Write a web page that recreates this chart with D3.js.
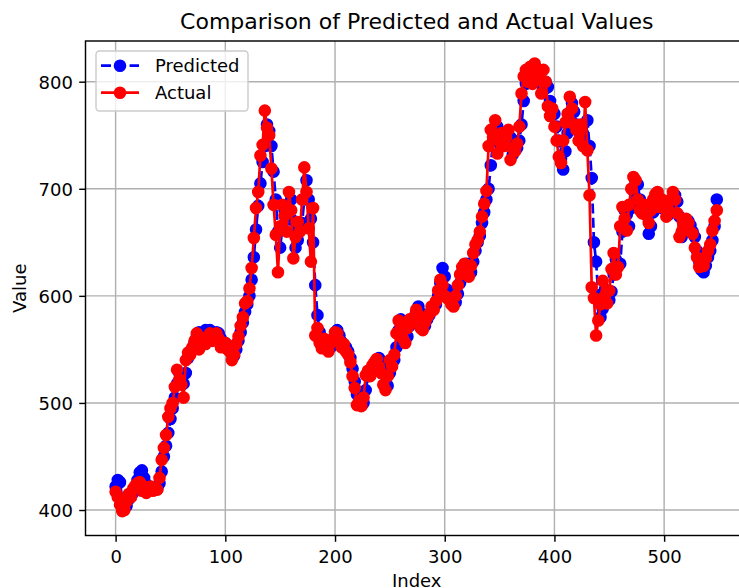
<!DOCTYPE html>
<html>
<head>
<meta charset="utf-8">
<script src="https://cdn.jsdelivr.net/npm/d3@7"></script>
<style>
  html, body { margin: 0; padding: 0; background: #fff; }
  svg { display: block; font-family: "DejaVu Sans", sans-serif; }
</style>
</head>
<body>
<svg id="chart" width="739" height="588"></svg>
<script>
// Observed values, one per sampled index (0, 2, 4, ... 548)
const actual = [
  417, 412, 405, 399, 400, 408, 415, 412, 420, 423,
  425, 426, 418, 422, 416, 420, 422, 418, 420, 419,
  430, 447, 458, 470, 487, 495, 500, 515, 531, 522,
  517, 505, 540, 547, 545, 552, 558, 565, 550, 556,
  560, 555, 562, 565, 558, 563, 565, 560, 552, 555,
  556, 550, 548, 540, 545, 555, 562, 572, 580, 593,
  595, 607, 626, 654, 682, 697, 731, 741, 773, 757,
  750, 719, 685, 657, 622, 665, 685, 675, 660, 697,
  680, 635, 655, 669, 660, 690, 720, 697, 663, 632,
  682, 563, 570, 556, 551, 560, 553, 548, 556, 560,
  566, 565, 558, 552, 555, 548, 545, 538, 525, 514,
  498, 502, 497, 505, 526, 530, 525, 535, 538, 541,
  534, 528, 517, 512, 525, 540, 534, 545, 565, 577,
  570, 560, 556, 570, 578, 575, 580, 587, 582, 570,
  568, 575, 580, 583, 590, 587, 595, 605, 615, 610,
  600, 598, 597, 592, 590, 600, 610, 620, 627, 630,
  622, 618, 628, 640, 648, 652, 660, 674, 686, 698,
  740, 755, 748, 764, 733, 745, 752, 740, 748, 755,
  727, 738, 735, 742, 758, 789, 805, 811, 800, 814,
  798, 817, 810, 802, 789, 811, 800, 777, 768, 775,
  758, 745, 730, 724, 745, 762, 770, 786, 775, 760,
  755, 745, 760, 740, 781, 736, 694, 608, 598, 563,
  577, 592, 614, 600, 593, 605, 625, 640, 620, 627,
  665, 683, 672, 661, 685, 700, 711, 708, 690, 680,
  677, 685, 675, 668, 680, 690, 695, 697, 683, 690,
  686, 674, 680, 690, 697, 690, 677, 655, 660, 668,
  672, 668, 660, 658, 645, 636, 627, 630, 628, 635,
  642, 648, 661, 670, 680
];

// Model output for the same indices
const predicted = [
  422, 428, 426, 410, 402, 404, 410, 414, 416, 420,
  428, 435, 437, 430, 424, 420, 421, 420, 419, 420,
  425, 436, 450, 460, 472, 485, 495, 505, 518, 528,
  525, 518, 528, 542, 548, 550, 556, 562, 566, 562,
  565, 568, 565, 568, 566, 564, 566, 565, 560, 556,
  556, 554, 550, 546, 544, 550, 558, 566, 575, 585,
  592, 600, 615, 636, 662, 684, 705, 725, 740, 760,
  754, 740, 716, 690, 660, 645, 664, 680, 676, 672,
  690, 670, 645, 652, 662, 668, 690, 708, 690, 672,
  650, 610, 582, 566, 560, 556, 558, 554, 552, 556,
  562, 568, 563, 557, 554, 552, 548, 542, 532, 520,
  508, 500, 498, 500, 512, 525, 530, 530, 536, 540,
  542, 536, 528, 518, 516, 528, 538, 540, 552, 568,
  578, 570, 562, 562, 572, 578, 580, 584, 590, 584,
  574, 572, 578, 582, 586, 590, 592, 600, 612, 626,
  618, 606, 600, 598, 594, 594, 602, 612, 622, 628,
  630, 624, 622, 632, 642, 650, 656, 668, 678, 690,
  700, 722, 745, 752, 758, 742, 746, 750, 744, 750,
  748, 732, 736, 738, 745, 760, 782, 798, 806, 804,
  810, 806, 812, 806, 798, 792, 800, 795, 782, 770,
  770, 758, 745, 728, 718, 735, 752, 764, 780, 772,
  760, 754, 748, 752, 742, 764, 740, 710, 650, 632,
  600, 580, 588, 606, 604, 596, 604, 620, 634, 628,
  630, 660, 680, 676, 665, 682, 698, 706, 704, 690,
  680, 678, 680, 658, 665, 678, 690, 694, 690, 682,
  686, 684, 676, 680, 690, 694, 688, 674, 655, 660,
  666, 670, 666, 660, 655, 642, 632, 624, 622, 628,
  636, 642, 652, 665, 690
];

const sampleIndex = d3.range(0, 550, 2);
const xTicks = [0, 100, 200, 300, 400, 500];
const yTicks = [400, 500, 600, 700, 800];
const chartTitle = "Comparison of Predicted and Actual Values";
const xTitle = "Index";
const yTitle = "Value";
const seriesNames = ["Predicted", "Actual"];

const plot = { left: 85.5, right: 748, top: 41, bottom: 535.5 };
const tickFont = 18;

const svg = d3.select("#chart");

const x = d3.scaleLinear().domain([-27.45, 576.45]).range([plot.left, plot.right]);
const y = d3.scaleLinear().domain([376.2, 838.0]).range([plot.bottom, plot.top]);

svg.append("defs").append("clipPath").attr("id", "plotClip")
  .append("rect")
  .attr("x", plot.left).attr("y", plot.top)
  .attr("width", plot.right - plot.left).attr("height", plot.bottom - plot.top);

// Grid lines
const grid = svg.append("g").attr("class", "grid");
grid.selectAll("line.gx").data(xTicks).join("line")
  .attr("x1", d => x(d)).attr("x2", d => x(d))
  .attr("y1", plot.top).attr("y2", plot.bottom)
  .attr("stroke", "#b0b0b0").attr("stroke-width", 1.44);
grid.selectAll("line.gy").data(yTicks).join("line")
  .attr("x1", plot.left).attr("x2", plot.right)
  .attr("y1", d => y(d)).attr("y2", d => y(d))
  .attr("stroke", "#b0b0b0").attr("stroke-width", 1.44);

// Series
const line = d3.line().x((d, i) => x(sampleIndex[i])).y(d => y(d));
const data = svg.append("g").attr("clip-path", "url(#plotClip)");

function drawSeries(values, color, dashed) {
  data.append("path")
    .datum(values)
    .attr("d", line)
    .attr("fill", "none")
    .attr("stroke", color)
    .attr("stroke-width", 2.7)
    .attr("stroke-dasharray", dashed ? "10,4.3" : null);
  data.append("g").selectAll("circle").data(values).join("circle")
    .attr("cx", (d, i) => x(sampleIndex[i]))
    .attr("cy", d => y(d))
    .attr("r", 5.4)
    .attr("fill", color)
    .attr("stroke", color)
    .attr("stroke-width", 1.8);
}
drawSeries(predicted, "#0000ff", true);
drawSeries(actual, "#ff0000", false);

// Axes
const xAxis = svg.append("g")
  .attr("transform", `translate(0,${plot.bottom})`)
  .call(d3.axisBottom(x).tickValues(xTicks).tickSize(6.3).tickPadding(6.3).tickSizeOuter(0));
const yAxis = svg.append("g")
  .attr("transform", `translate(${plot.left},0)`)
  .call(d3.axisLeft(y).tickValues(yTicks).tickSize(6.3).tickPadding(6.3).tickSizeOuter(0));

[xAxis, yAxis].forEach(g => {
  g.select(".domain").remove();
  g.selectAll(".tick line").attr("stroke", "#000").attr("stroke-width", 1.44);
  g.selectAll(".tick text")
    .attr("fill", "#000")
    .style("font-size", tickFont + "px")
    .style("font-family", "DejaVu Sans, sans-serif");
});
xAxis.selectAll(".tick text").attr("y", 27.8).attr("dy", null);
yAxis.selectAll(".tick text").attr("dy", "0.36em");

// Spines
svg.append("rect")
  .attr("x", plot.left).attr("y", plot.top)
  .attr("width", plot.right - plot.left).attr("height", plot.bottom - plot.top)
  .attr("fill", "none").attr("stroke", "#000").attr("stroke-width", 1.44);

// Titles
const midX = (plot.left + plot.right) / 2;
svg.append("text")
  .attr("x", midX).attr("y", 29.3)
  .attr("text-anchor", "middle")
  .style("font-size", "22px")
  .attr("fill", "#000")
  .text(chartTitle);
svg.append("text")
  .attr("x", midX).attr("y", 587)
  .attr("text-anchor", "middle")
  .style("font-size", tickFont + "px")
  .attr("fill", "#000")
  .text(xTitle);
svg.append("text")
  .attr("transform", `translate(25.5,${(plot.top + plot.bottom) / 2}) rotate(-90)`)
  .attr("text-anchor", "middle")
  .style("font-size", tickFont + "px")
  .attr("fill", "#000")
  .text(yTitle);

// Legend
const legend = svg.append("g");
legend.append("rect")
  .attr("x", 96).attr("y", 51)
  .attr("width", 152).attr("height", 60)
  .attr("rx", 3.5)
  .attr("fill", "#fff").attr("fill-opacity", 0.8)
  .attr("stroke", "#cccccc").attr("stroke-width", 1.44);
const legendItems = [
  { name: seriesNames[0], color: "#0000ff", dashed: true, cy: 65.7 },
  { name: seriesNames[1], color: "#ff0000", dashed: false, cy: 92.7 }
];
legendItems.forEach(item => {
  legend.append("line")
    .attr("x1", 101).attr("x2", 139)
    .attr("y1", item.cy).attr("y2", item.cy)
    .attr("stroke", item.color).attr("stroke-width", 2.7)
    .attr("stroke-dasharray", item.dashed ? "10,4.3" : null);
  legend.append("circle")
    .attr("cx", 120).attr("cy", item.cy).attr("r", 5.4)
    .attr("fill", item.color).attr("stroke", item.color).attr("stroke-width", 1.8);
  legend.append("text")
    .attr("x", 155).attr("y", item.cy + 6.6)
    .style("font-size", tickFont + "px")
    .attr("fill", "#000")
    .text(item.name);
});
</script>
</body>
</html>
